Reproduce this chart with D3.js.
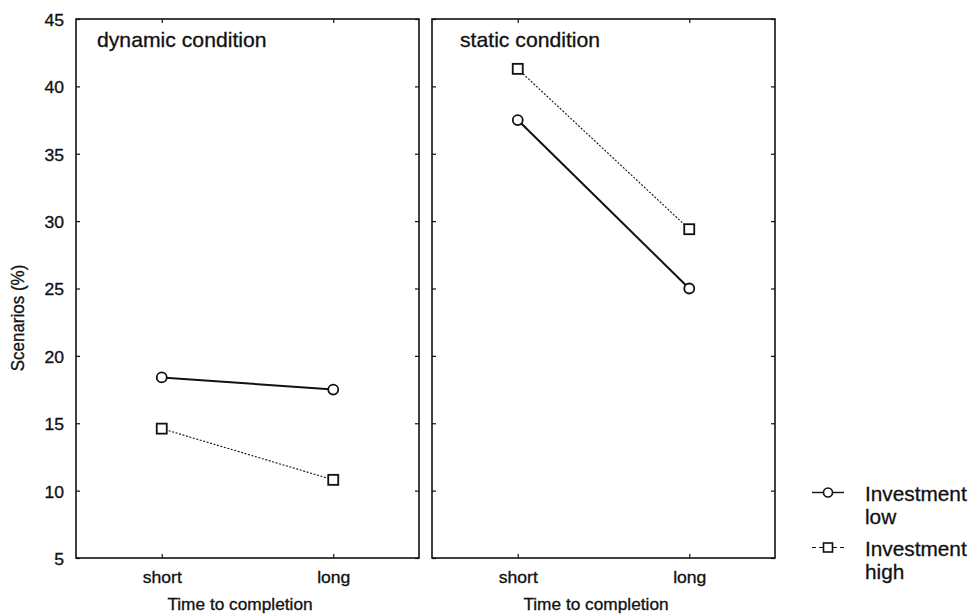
<!DOCTYPE html>
<html>
<head>
<meta charset="utf-8">
<script src="https://cdn.jsdelivr.net/npm/d3@7"></script>
<style>
  body { margin: 0; background: #fff; }
  svg text { font-family: Arial, "Liberation Sans", sans-serif; fill: #111; stroke: #111; stroke-width: 0.3px; }
</style>
</head>
<body>
<svg id="chart" width="974" height="615"></svg>
<script>
"use strict";

// data
var categories = ["short", "long"];
var panels = ["dynamic condition", "static condition"];
var yTicks = [5, 10, 15, 20, 25, 30, 35, 40, 45];
var investLowDynamic = [18.4, 17.5];
var investHighDynamic = [14.6, 10.8];
var investLowStatic = [37.5, 25.0];
var investHighStatic = [41.3, 29.4];
var legendLabels = [["Investment", "low"], ["Investment", "high"]];

var seriesByPanel = [
  [{values: investLowDynamic, kind: "low"}, {values: investHighDynamic, kind: "high"}],
  [{values: investLowStatic, kind: "low"}, {values: investHighStatic, kind: "high"}]
];

var svg = d3.select("#chart"),
  plotTop = 19, plotBottom = 558,
  stretch = 1.1   // the scan is a bit wider than tall
;

var y = d3.scaleLinear().domain([5, 45]).range([plotBottom, plotTop]);
var panelX = d3.scaleBand().domain(panels).range([76, 775]).paddingInner(13 / 356);
var w = panelX.bandwidth();
var titleDx = [21, 28];

function wide(sel, sx) {
  sel.each(function() {
    var t = d3.select(this),
      tx = +t.attr("x") || 0,
      ty = +t.attr("y") || 0;
    t.attr("x", null).attr("y", null)
      .attr("transform", "translate(" + tx + "," + ty + ") scale(" + sx + ",1)");
  });
}

panels.forEach(function(name, i) {
  var left = panelX(name),
    g = svg.append("g").attr("transform", "translate(" + left + ",0)"),
    x = d3.scalePoint().domain(categories).range([0, w]).padding(0.5);

  // inward ticks on all four sides
  var axL = g.append("g").call(d3.axisLeft(y).tickValues(yTicks).tickSize(-4).tickPadding(12).tickFormat(i === 0 ? d3.format("d") : ""));
  var axR = g.append("g").attr("transform", "translate(" + w + ",0)")
    .call(d3.axisRight(y).tickValues(yTicks).tickSize(-4).tickFormat(""));
  var axB = g.append("g").attr("transform", "translate(0," + plotBottom + ")")
    .call(d3.axisBottom(x).tickSize(-4).tickPadding(12));
  var axT = g.append("g").attr("transform", "translate(0," + plotTop + ")")
    .call(d3.axisTop(x).tickSize(-4).tickFormat(""));

  [axL, axR, axB, axT].forEach(function(a) {
    a.select(".domain").remove();
    a.selectAll("line").attr("stroke", "#111").attr("stroke-width", 1.2);
  });

  axL.selectAll("text").attr("font-size", 16).attr("fill", "#111").attr("dy", "0.4em").call(wide, stretch);
  axB.selectAll("text").attr("font-size", 16).attr("fill", "#111").attr("dy", null).attr("y", 25).call(wide, stretch);

  g.append("rect")
    .attr("x", 0).attr("y", plotTop).attr("width", w).attr("height", plotBottom - plotTop)
    .attr("fill", "none").attr("stroke", "#111").attr("stroke-width", 1.6);

  g.append("text")
    .attr("x", titleDx[i]).attr("y", 47)
    .attr("font-size", 20)
    .text(name)
    .call(wide, 1.06);

  g.append("text")
    .attr("x", w / 2 - 7.5).attr("y", 610)
    .attr("font-size", 16)
    .attr("text-anchor", "middle")
    .text("Time to completion")
    .call(wide, 1.08);

  var line = d3.line()
    .x(function(d, j) { return x(categories[j]); })
    .y(function(d) { return y(d); });

  seriesByPanel[i].forEach(function(s) {
    g.append("path")
      .datum(s.values)
      .attr("fill", "none")
      .attr("stroke", "#111")
      .attr("stroke-width", s.kind === "low" ? 2 : 1.1)
      .attr("stroke-dasharray", s.kind === "low" ? null : "2,1.6")
      .attr("d", line);
  });

  seriesByPanel[i].forEach(function(s) {
    var pts = g.selectAll(null).data(s.values).enter();
    if (s.kind === "low") {
      pts.append("circle")
        .attr("cx", function(d, j) { return x(categories[j]); })
        .attr("cy", function(d) { return y(d); })
        .attr("r", 5)
        .attr("fill", "#fff").attr("stroke", "#111").attr("stroke-width", 1.8);
    } else {
      pts.append("rect")
        .attr("x", function(d, j) { return x(categories[j]) - 5; })
        .attr("y", function(d) { return y(d) - 5; })
        .attr("width", 10).attr("height", 10)
        .attr("fill", "#fff").attr("stroke", "#111").attr("stroke-width", 1.8);
    }
  });
});

// y axis title
svg.append("text")
  .attr("transform", "translate(24,318) scale(1.1,1) rotate(-90)")
  .attr("font-size", 17)
  .attr("text-anchor", "middle")
  .text("Scenarios (%)");

// legend
var legendY = d3.scalePoint().domain(["low", "high"]).range([492.5, 547.5]);
["low", "high"].forEach(function(k, i) {
  var ly = legendY(k),
    lg = svg.append("g");
  lg.append("line")
    .attr("x1", 812).attr("x2", 844).attr("y1", ly).attr("y2", ly)
    .attr("stroke", "#111")
    .attr("stroke-width", k === "low" ? 1.4 : 1.2)
    .attr("stroke-dasharray", k === "low" ? null : "4,3");
  if (k === "low") {
    lg.append("circle").attr("cx", 828).attr("cy", ly).attr("r", 4.5)
      .attr("fill", "#fff").attr("stroke", "#111").attr("stroke-width", 1.6);
  } else {
    lg.append("rect").attr("x", 823.5).attr("y", ly - 4.5).attr("width", 9).attr("height", 9)
      .attr("fill", "#fff").attr("stroke", "#111").attr("stroke-width", 1.6);
  }
  legendLabels[i].forEach(function(t, j) {
    lg.append("text")
      .attr("x", 865).attr("y", ly + 8 + j * 23)
      .attr("font-size", 20)
      .text(t)
      .call(wide, 1.04);
  });
});
</script>
</body>
</html>
